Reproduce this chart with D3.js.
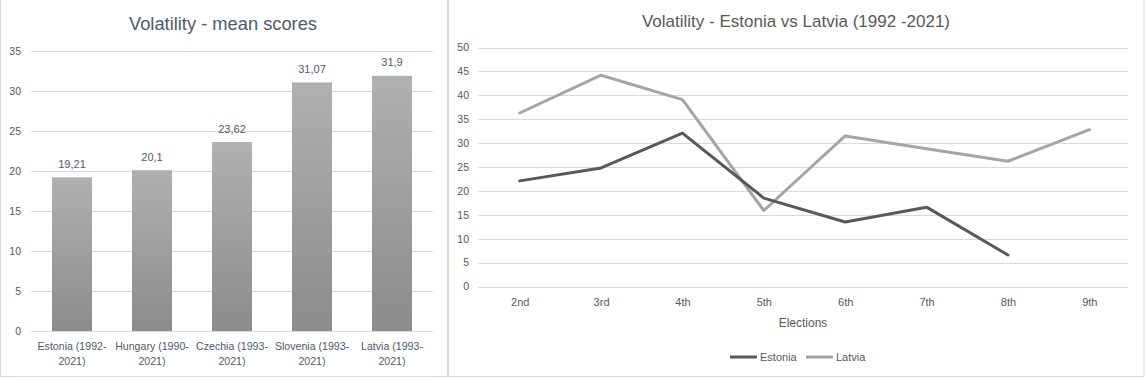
<!DOCTYPE html>
<html>
<head>
<meta charset="utf-8">
<script src="https://cdn.jsdelivr.net/npm/d3@7"></script>
<style>
  html, body { margin: 0; padding: 0; background: #fff; }
  svg { display: block; }
  text { font-family: "Liberation Sans", Arial, sans-serif; }
</style>
</head>
<body>
<svg id="chart" width="1145" height="378"></svg>
<script>
// ---- Data: left chart (mean scores) ----
const barCategories = [["Estonia (1992-", "2021)"], ["Hungary (1990-", "2021)"], ["Czechia (1993-", "2021)"], ["Slovenia (1993-", "2021)"], ["Latvia (1993-", "2021)"]];
const barValues = [19.21, 20.1, 23.62, 31.07, 31.9];
const barLabels = ["19,21", "20,1", "23,62", "31,07", "31,9"];
const barTicks = [0, 5, 10, 15, 20, 25, 30, 35];

// ---- Data: right chart (Estonia vs Latvia) ----
const elections = ["2nd", "3rd", "4th", "5th", "6th", "7th", "8th", "9th"];
const estonia = [22.1, 24.8, 32.1, 18.5, 13.5, 16.6, 6.6, null];
const latvia = [36.3, 44.2, 39.1, 15.9, 31.5, 28.8, 26.2, 32.8];
const lineTicks = [0, 5, 10, 15, 20, 25, 30, 35, 40, 45, 50];

const svg = d3.select("#chart");

// ---------- panel frames ----------
svg.append("rect").attr("x", 0.5).attr("y", -1).attr("width", 447).attr("height", 377.5)
  .attr("fill", "#fff").attr("stroke", "#d6dce4");
svg.append("rect").attr("x", 448.5).attr("y", -1).attr("width", 695.5).attr("height", 377.5)
  .attr("fill", "#fff").attr("stroke", "#d9d9d9");

// ---------- LEFT: bar chart ----------
const leftText = "#4e5a6a";
const L = svg.append("g");
const xb = d3.scaleBand().domain(d3.range(barValues.length)).range([32, 432]).paddingInner(0.5).paddingOuter(0.25);
const yb = d3.scaleLinear().domain([0, 35]).range([331, 51]);

const defs = svg.append("defs");
const grad = defs.append("linearGradient").attr("id", "barGrad")
  .attr("x1", 0).attr("y1", 0).attr("x2", 0).attr("y2", 1);
grad.append("stop").attr("offset", "0%").attr("stop-color", "#b0b0b0");
grad.append("stop").attr("offset", "100%").attr("stop-color", "#8c8c8c");

L.append("text").attr("x", 223).attr("y", 30).attr("text-anchor", "middle")
  .attr("font-size", 18.3).attr("fill", leftText).text("Volatility - mean scores");

const yAxisL = d3.axisLeft(yb).tickValues(barTicks).tickSize(-(433 - 31)).tickPadding(10).tickFormat(d3.format("d"));
const gyL = L.append("g").attr("transform", "translate(31,0)").call(yAxisL);
gyL.select(".domain").remove();
gyL.selectAll(".tick line").attr("stroke", "#d9d9d9").attr("shape-rendering", "crispEdges");
gyL.selectAll(".tick text").attr("fill", leftText).attr("font-size", 10.5)
  .attr("x", -10).attr("font-family", "Liberation Sans, Arial, sans-serif");

L.selectAll("rect.bar").data(barValues).join("rect").attr("class", "bar")
  .attr("x", (d, i) => xb(i)).attr("width", xb.bandwidth())
  .attr("y", d => yb(d)).attr("height", d => yb(0) - yb(d))
  .attr("fill", "url(#barGrad)");

L.selectAll("text.dl").data(barValues).join("text").attr("class", "dl")
  .attr("x", (d, i) => xb(i) + xb.bandwidth() / 2).attr("y", d => yb(d) - 9.5)
  .attr("text-anchor", "middle").attr("font-size", 11).attr("fill", leftText)
  .text((d, i) => barLabels[i]);

const catG = L.selectAll("text.cat").data(barCategories).join("text").attr("class", "cat")
  .attr("text-anchor", "middle").attr("font-size", 10.6).attr("fill", leftText);
catG.each(function (lines, i) {
  const t = d3.select(this);
  lines.forEach((ln, k) => {
    t.append("tspan").attr("x", xb(i) + xb.bandwidth() / 2).attr("y", 350 + k * 15).text(ln);
  });
});

// ---------- RIGHT: line chart ----------
const rightText = "#595959";
const R = svg.append("g");
const xl = d3.scalePoint().domain(elections).range([479, 1130]).padding(0.5);
const yl = d3.scaleLinear().domain([0, 50]).range([286.5, 47.5]);

R.append("text").attr("x", 796).attr("y", 27).attr("text-anchor", "middle")
  .attr("font-size", 17).attr("fill", rightText).text("Volatility - Estonia vs Latvia (1992 -2021)");

const yAxisR = d3.axisLeft(yl).tickValues(lineTicks).tickSize(-(1128 - 478)).tickPadding(10).tickFormat(d3.format("d"));
const gyR = R.append("g").attr("transform", "translate(478,0)").call(yAxisR);
gyR.select(".domain").remove();
gyR.selectAll(".tick line").attr("stroke", "#d9d9d9").attr("shape-rendering", "crispEdges");
gyR.selectAll(".tick text").attr("fill", rightText).attr("font-size", 10.5)
  .attr("x", -9).attr("font-family", "Liberation Sans, Arial, sans-serif");

const xAxisR = d3.axisBottom(xl).tickSize(0).tickPadding(0);
const gxR = R.append("g").attr("transform", "translate(0,306)").call(xAxisR);
gxR.select(".domain").remove();
gxR.selectAll(".tick text").attr("fill", rightText).attr("font-size", 11).attr("dy", 0)
  .attr("font-family", "Liberation Sans, Arial, sans-serif");

R.append("text").attr("x", 803).attr("y", 327).attr("text-anchor", "middle")
  .attr("font-size", 12).attr("fill", rightText).text("Elections");

const line = d3.line().defined(d => d != null).x((d, i) => xl(elections[i])).y(d => yl(d));
const series = [
  { name: "Estonia", values: estonia, color: "#595959" },
  { name: "Latvia", values: latvia, color: "#a5a5a5" }
];
R.append("path").datum(latvia).attr("d", line).attr("fill", "none")
  .attr("stroke", "#a5a5a5").attr("stroke-width", 3).attr("stroke-linejoin", "round").attr("stroke-linecap", "round");
R.append("path").datum(estonia).attr("d", line).attr("fill", "none")
  .attr("stroke", "#595959").attr("stroke-width", 3).attr("stroke-linejoin", "round").attr("stroke-linecap", "round");

// legend
const legendPos = [{ x: 730, tx: 760 }, { x: 806, tx: 836 }];
series.forEach((s, i) => {
  const p = legendPos[i];
  R.append("line").attr("x1", p.x).attr("x2", p.x + 27).attr("y1", 357).attr("y2", 357)
    .attr("stroke", s.color).attr("stroke-width", 3);
  R.append("text").attr("x", p.tx).attr("y", 361).attr("font-size", 11).attr("fill", rightText).text(s.name);
});
</script>
</body>
</html>
